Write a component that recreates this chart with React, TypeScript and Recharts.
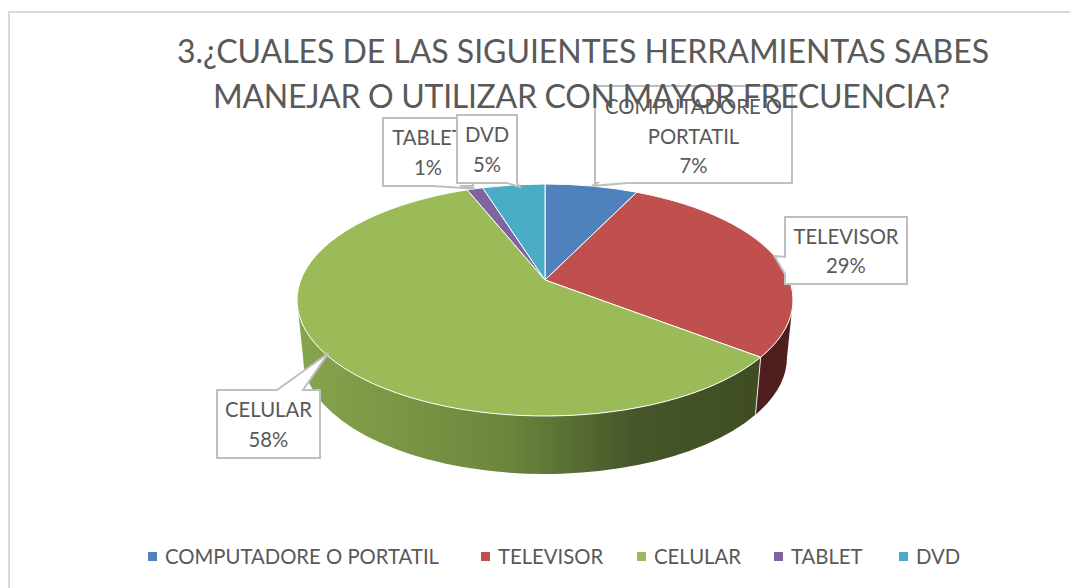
import { PieChart, Pie, Legend } from 'recharts';

const NAMES = ['COMPUTADORE O PORTATIL', 'TELEVISOR', 'CELULAR', 'TABLET', 'DVD'];
const VALUES = [7, 28.7, 58.4, 1.2, 4.7];
const LABEL_LINES = [['COMPUTADORE O', 'PORTATIL'], ['TELEVISOR'], ['CELULAR'], ['TABLET'], ['DVD']];
const TITLE_LINES = ['3.¿CUALES DE LAS SIGUIENTES HERRAMIENTAS SABES', 'MANEJAR O UTILIZAR CON MAYOR FRECUENCIA?'];

const COLORS = ['#4f81bd', '#c0504d', '#9bbb59', '#8064a2', '#4bacc6'];
const WALLS = ['#2f4d71', '#4f1f1e', 'url(#greenWall)', '#4c3c61', '#2d6776'];
const TEXT = '#595959';
const FONT = 'Lato, sans-serif';

// the pie is tilted: rays leave the apex, which sits above the centre of the rim
const CX = 545;
const CY = 280;
const RX = 248;
const RIM_DY = 20;
const RIM_RY = 116;
const FLAT = 0.45;
const BASE_RX = 242;
const BASE_RY = 117;
const BASE_DY = 77;

// callout boxes; a/b are where the pointer leaves the given edge
const BOXES = [
  { x: 595, y: 86, w: 197, h: 97, edge: 'bottom', a: 627, b: 597, tx: 0, ty: 0, textDy: 1 },
  { x: 785, y: 217, w: 122, h: 67, edge: 'left', a: 274, b: 257, tx: 0, ty: 0, textDy: 0 },
  { x: 217, y: 390, w: 103, h: 68, edge: 'top', a: 277, b: 303, tx: 4, ty: 0, textDy: 0 },
  { x: 383, y: 118, w: 90, h: 68, edge: 'bottom', a: 460, b: 433, tx: 0, ty: 0, textDy: 0 },
  { x: 457, y: 115, w: 60, h: 68, edge: 'bottom', a: 517, b: 507, tx: 6, ty: 2, textDy: 0 },
];

const LEGEND_LEFT = [148, 481, 637, 774, 899];
const TITLE_X = [583, 581.5];
const TITLE_WIDTH = [812, 737];

// angle clockwise from the top, in degrees, to a point on the rim ellipse
function rimPhi(theta: number) {
  const t = (theta * Math.PI) / 180;
  const dx = Math.sin(t);
  const dy = -Math.cos(t) * FLAT;
  const a = (dx * dx) / (RX * RX) + (dy * dy) / (RIM_RY * RIM_RY);
  const b = (2 * dy * -RIM_DY) / (RIM_RY * RIM_RY);
  const c = (RIM_DY * RIM_DY) / (RIM_RY * RIM_RY) - 1;
  const r = (-b + Math.sqrt(b * b - 4 * a * c)) / (2 * a);
  const phi = (Math.atan2((r * dx) / RX, -(r * dy - RIM_DY) / RIM_RY) * 180) / Math.PI;
  return phi < -0.001 ? phi + 360 : phi;
}

const rimPoint = (phi: number) => {
  const p = (phi * Math.PI) / 180;
  return [CX + RX * Math.sin(p), CY + RIM_DY - RIM_RY * Math.cos(p)];
};
const basePoint = (phi: number) => {
  const p = (phi * Math.PI) / 180;
  return [CX + BASE_RX * Math.sin(p), CY + BASE_DY - BASE_RY * Math.cos(p)];
};

function PieSlice(props: any) {
  const { cx, cy, startAngle, endAngle, fill, index } = props;
  const from = rimPhi(90 - startAngle);
  let to = rimPhi(90 - endAngle);
  if (to <= from) to += 360;
  const [x0, y0] = rimPoint(from);
  const [x1, y1] = rimPoint(to);
  const large = to - from > 180 ? 1 : 0;
  const top = `M${cx},${cy}L${x0},${y0}A${RX},${RIM_RY} 0 ${large} 1 ${x1},${y1}Z`;

  // only the front half of the rim has a visible wall
  const wallFrom = Math.max(from, 90);
  const wallTo = Math.min(to, 270);
  let wall = null;
  if (wallTo > wallFrom) {
    const [ax, ay] = rimPoint(wallFrom);
    const [bx, by] = rimPoint(wallTo);
    const [cx2, cy2] = basePoint(wallTo);
    const [dx, dy] = basePoint(wallFrom);
    wall = (
      <g>
        <path
          d={`M${ax},${ay}A${RX},${RIM_RY} 0 0 1 ${bx},${by}L${cx2},${cy2}A${BASE_RX},${BASE_RY} 0 0 0 ${dx},${dy}Z`}
          fill={WALLS[index]}
        />
        {wallFrom > 90 && <line x1={ax} y1={ay} x2={dx} y2={dy} stroke="#e8e8e8" strokeWidth={1} />}
      </g>
    );
  }
  return (
    <g>
      {wall}
      <path d={top} fill={fill} stroke="#ffffff" strokeWidth={1} strokeLinejoin="round" />
    </g>
  );
}

function calloutPath(b: any, tipX: number, tipY: number) {
  const r = b.x + b.w;
  const s = b.y + b.h;
  const tip = `L${tipX},${tipY}`;
  if (b.edge === 'top') {
    return `M${b.x},${b.y}L${b.a},${b.y}${tip}L${b.b},${b.y}L${r},${b.y}L${r},${s}L${b.x},${s}Z`;
  }
  if (b.edge === 'left') {
    return `M${b.x},${b.y}L${r},${b.y}L${r},${s}L${b.x},${s}L${b.x},${b.a}${tip}L${b.x},${b.b}Z`;
  }
  return `M${b.x},${b.y}L${r},${b.y}L${r},${s}L${b.a},${s}${tip}L${b.b},${s}L${b.x},${s}Z`;
}

function Callout(props: any) {
  const { index, midAngle, percent } = props;
  const b = BOXES[index];
  const [tx, ty] = rimPoint(rimPhi(90 - midAngle));
  const lines = [...LABEL_LINES[index], `${Math.round(percent * 100)}%`];
  const mid = b.x + b.w / 2;
  const startY = b.y + b.h / 2 + b.textDy - ((lines.length - 1) * 29.5) / 2;
  return (
    <g>
      <path d={calloutPath(b, tx + b.tx, ty + b.ty)} fill="#ffffff" stroke="#bfbfbf" strokeWidth={2} />
      {lines.map((line, i) => (
        <text
          key={line}
          x={mid}
          y={startY + i * 29.5}
          textAnchor="middle"
          dominantBaseline="central"
          fontSize={20.3}
          fontFamily={FONT}
          fill={TEXT}
        >
          {line}
        </text>
      ))}
    </g>
  );
}

function LegendRow({ payload }: any) {
  return (
    <div style={{ position: 'relative', width: 1070, height: 26, fontFamily: FONT, fontSize: 20.3, color: TEXT, whiteSpace: 'nowrap' }}>
      {(payload ?? []).map((item: any, i: number) => (
        <div
          key={item.value}
          style={{ position: 'absolute', left: LEGEND_LEFT[i], top: 0, display: 'flex', alignItems: 'center', gap: 8 }}
        >
          <span style={{ width: 9, height: 9, background: COLORS[i], display: 'inline-block' }} />
          <span>{item.value}</span>
        </div>
      ))}
    </div>
  );
}

const data = NAMES.map((name, i) => ({ name, value: VALUES[i], fill: COLORS[i] }));

export default function App() {
  return (
    <div style={{ position: 'absolute', left: 0, top: 0, width: 1070, height: 588, overflow: 'hidden', background: '#fff' }}>
      <div style={{ position: 'absolute', left: 8, top: 11, width: 1100, height: 620, border: '2px solid #d9d9d9' }} />
      <div style={{ position: 'absolute', left: 0, top: 0 }}>
        <PieChart width={1070} height={588} margin={{ top: 0, right: 0, bottom: 0, left: 0 }}>
          <defs>
            <linearGradient id="greenWall" gradientUnits="userSpaceOnUse" x1={297} y1={0} x2={761} y2={0}>
              <stop offset="0%" stopColor="#87a54d" />
              <stop offset="45%" stopColor="#6b873d" />
              <stop offset="72%" stopColor="#47572a" />
              <stop offset="100%" stopColor="#3f4c22" />
            </linearGradient>
          </defs>
          <Pie
            data={data}
            dataKey="value"
            nameKey="name"
            cx={CX}
            cy={CY}
            outerRadius={RX}
            startAngle={90}
            endAngle={-270}
            shape={PieSlice}
            inactiveShape={PieSlice}
            activeShape={PieSlice}
            label={Callout}
            labelLine={false}
            isAnimationActive={false}
          />
          <Legend
            content={LegendRow}
            itemSorter={null}
            wrapperStyle={{ left: 0, top: 544, width: 1070 }}
          />
        </PieChart>
      </div>
      {/* title sits above the callouts, the reference overprints them */}
      <svg width={1070} height={588} style={{ position: 'absolute', left: 0, top: 0, pointerEvents: 'none' }}>
        {TITLE_LINES.map((line, i) => (
          <text
            key={line}
            x={TITLE_X[i]}
            y={50 + i * 45}
            textAnchor="middle"
            dominantBaseline="central"
            fontSize={32}
            fontFamily={FONT}
            fill={TEXT}
            textLength={TITLE_WIDTH[i]}
          >
            {line}
          </text>
        ))}
      </svg>
    </div>
  );
}
